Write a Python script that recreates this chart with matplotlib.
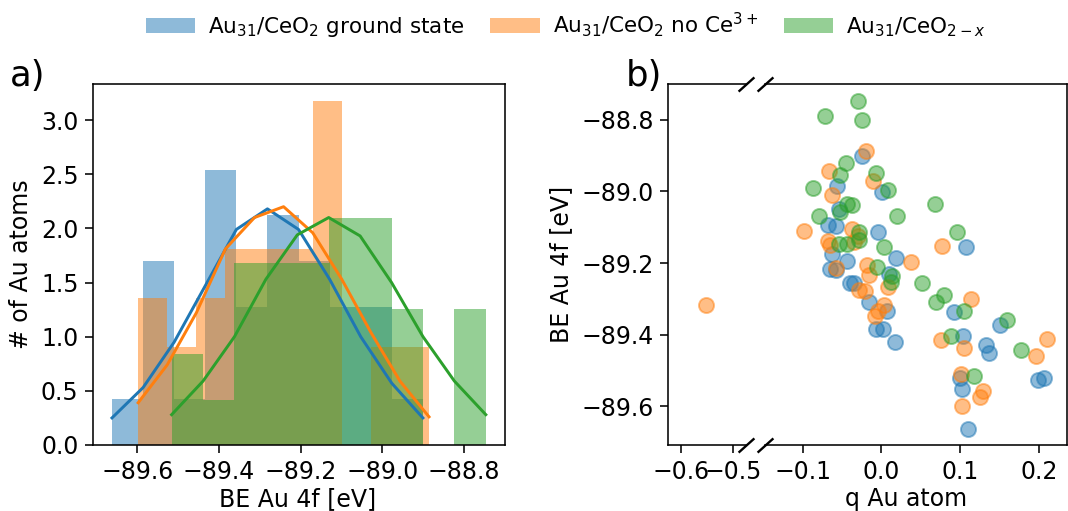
import matplotlib
matplotlib.use("Agg")
import matplotlib.pyplot as plt

# Au 4f binding energies [eV] and Bader charges q for the three models
q_ground = [-0.025, -0.056, 0.001, -0.054, -0.068, -0.058, -0.004, -0.063, -0.043, 0.019,
            0.108, -0.065, -0.040, -0.035, 0.010, -0.016, 0.007, -0.007, 0.002, 0.017,
            0.092, 0.104, 0.133, 0.137, 0.150, 0.100, 0.103, 0.110, 0.199, 0.206, -0.058]
be_ground = [-88.901, -88.985, -89.003, -89.048, -89.095, -89.097, -89.114, -89.176, -89.194, -89.187,
             -89.155, -89.216, -89.256, -89.256, -89.231, -89.309, -89.335, -89.384, -89.384, -89.420,
             -89.337, -89.403, -89.428, -89.451, -89.374, -89.521, -89.551, -89.662, -89.527, -89.520, -89.220]

q_noce = [-0.020, -0.067, -0.011, -0.062, -0.098, -0.037, -0.030, -0.068, -0.065, -0.058,
          -0.018, -0.016, -0.021, 0.009, 0.004, -0.004, 0.038, 0.077, 0.114, 0.076,
          0.105, 0.101, 0.129, 0.125, 0.103, 0.210, 0.196, -0.552, -0.008, -0.028, -0.035]
be_noce = [-88.886, -88.944, -88.970, -89.010, -89.110, -89.106, -89.124, -89.139, -89.149, -89.213,
           -89.206, -89.234, -89.277, -89.266, -89.318, -89.335, -89.198, -89.153, -89.300, -89.416,
           -89.437, -89.511, -89.556, -89.574, -89.598, -89.412, -89.460, -89.316, -89.348, -89.275, -89.142]

q_red = [-0.030, -0.025, -0.071, -0.045, -0.053, -0.087, -0.007, 0.009, 0.020, 0.068,
         0.096, -0.079, -0.043, -0.037, -0.052, -0.028, -0.028, -0.043, -0.054, 0.004,
         -0.005, 0.014, 0.012, 0.051, 0.069, 0.080, 0.105, 0.088, 0.118, 0.160, 0.177]
be_red = [-88.747, -88.801, -88.789, -88.921, -88.955, -88.991, -88.949, -88.997, -89.069, -89.036,
          -89.113, -89.068, -89.034, -89.039, -89.058, -89.114, -89.135, -89.146, -89.146, -89.155,
          -89.212, -89.237, -89.252, -89.255, -89.310, -89.288, -89.333, -89.403, -89.516, -89.358, -89.442]

# normal fits, one value per bin edge
fit_ground = [0.25, 0.53, 0.95, 1.47, 1.99, 2.18, 1.99, 1.53, 1.00, 0.57, 0.25]
fit_noce = [0.39, 0.74, 1.22, 1.81, 2.10, 2.20, 1.96, 1.53, 1.04, 0.59, 0.26]
fit_red = [0.28, 0.59, 1.00, 1.53, 1.94, 2.10, 1.93, 1.50, 1.00, 0.59, 0.28]

labels = [r'Au$_{31}$/CeO$_2$ ground state', r'Au$_{31}$/CeO$_2$ no Ce$^{3+}$', r'Au$_{31}$/CeO$_{2-x}$']
colors = ['tab:blue', 'tab:orange', 'tab:green']

plt.rcParams['font.size'] = 12
plt.rcParams['xtick.major.size'] = 4
plt.rcParams['ytick.major.size'] = 4

W, H = 1068, 511
fig = plt.figure(figsize=(W / 142, H / 142), dpi=142)

def box(x0, x1, y0, y1):
    return [x0 / W, 1 - y1 / H, (x1 - x0) / W, (y1 - y0) / H]

ax = fig.add_axes(box(93.3, 504.5, 84.3, 445))
axl = fig.add_axes(box(668.3, 745.8, 84.3, 445))
axr = fig.add_axes(box(764.7, 1066.5, 84.3, 445), sharey=axl)

# a) histograms + fits
handles = []
for be, fit, c, lab in zip([be_ground, be_noce, be_red], [fit_ground, fit_noce, fit_red], colors, labels):
    n, edges, patches = ax.hist(be, bins=10, density=True, alpha=0.5, color=c, label=lab)
    ax.plot(edges, fit, color=c, lw=1.5)
    handles.append(patches[0])
ax.set_ylabel('# of Au atoms')
ax.set_xticks([-89.6, -89.4, -89.2, -89.0, -88.8])

# b) broken-axis scatter
for a in (axl, axr):
    for q, be, c in zip([q_ground, q_noce, q_red], [be_ground, be_noce, be_red], colors):
        a.scatter(q, be, s=58, color=c, alpha=0.5)
axl.set_xlim(-0.625, -0.475)
axr.set_xlim(-0.148, 0.235)
axl.set_xticks([-0.6, -0.5])
axr.set_xticks([-0.1, 0.0, 0.1, 0.2])
axl.set_yticks([-88.8, -89.0, -89.2, -89.4, -89.6])
axl.spines['right'].set_visible(False)
axr.spines['left'].set_visible(False)
axr.tick_params(left=False, labelleft=False)
axl.set_ylabel('BE Au 4f [eV]')

kw = dict(marker=[(-1, -0.9), (1, 0.9)], markersize=8, linestyle='none',
          color='k', mec='k', mew=1.2, clip_on=False)
axl.plot([1, 1], [0, 1], transform=axl.transAxes, **kw)
axr.plot([0, 0], [0, 1], transform=axr.transAxes, **kw)

# x labels sit right at the bottom edge
fig.text(298 / W, 1 - 499 / H, 'BE Au 4f [eV]', ha='center', va='center')
fig.text(906 / W, 1 - 499 / H, 'q Au atom', ha='center', va='center')

fig.text(10 / W, 1 - 76 / H, 'a)', fontsize=18, va='center')
fig.text(626 / W, 1 - 76 / H, 'b)', fontsize=18, va='center')

fig.legend(handles, labels, loc='center', ncol=3, frameon=False,
           bbox_to_anchor=(566 / W, 1 - 25 / H), fontsize=10.9, columnspacing=1.2,
           handlelength=2.3, handletextpad=0.6)

fig.savefig('out.png', dpi=142)
